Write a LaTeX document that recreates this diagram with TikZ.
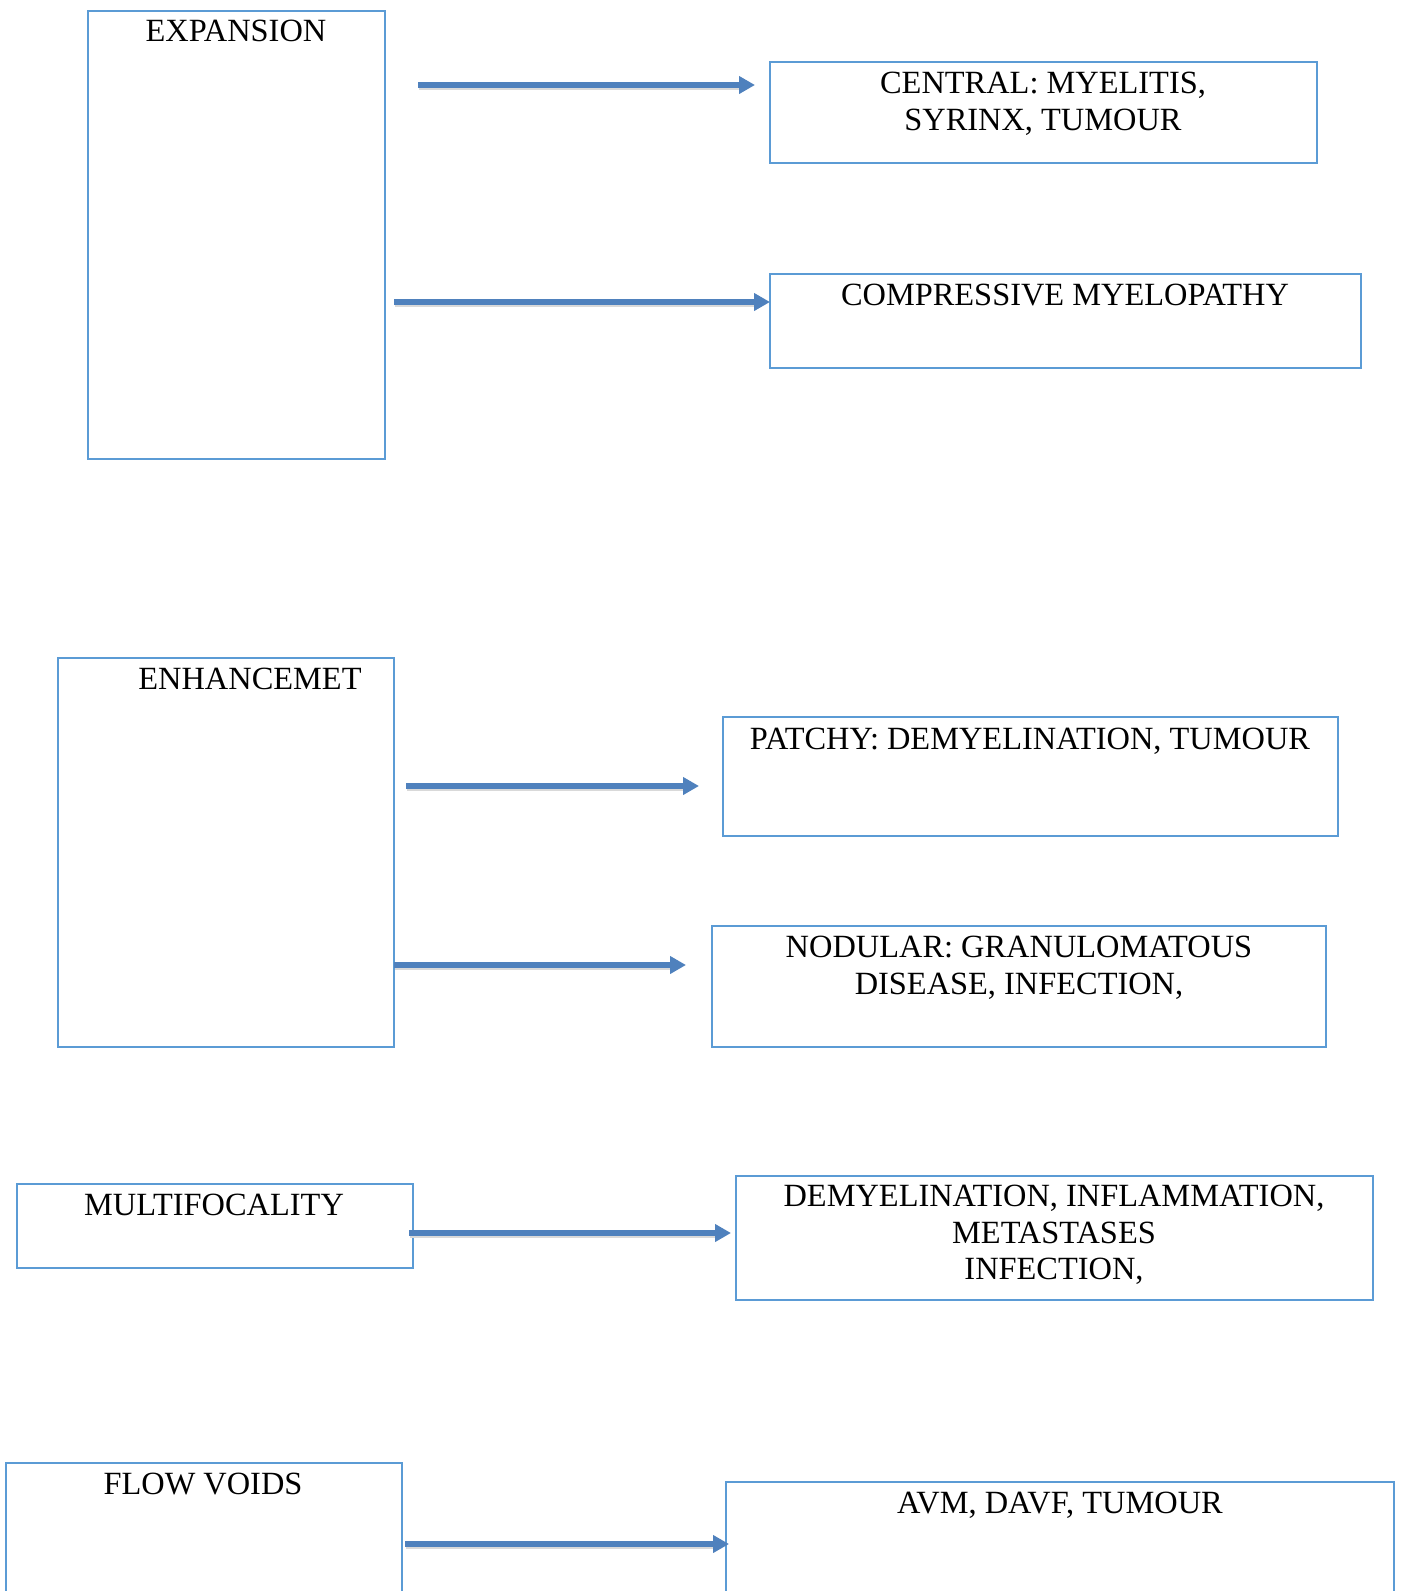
\documentclass[tikz,border=0pt]{standalone}
\usepackage{fontspec}
\setmainfont{Liberation Serif}
\usetikzlibrary{arrows.meta}
\definecolor{boxblue}{HTML}{5B9BD5}
\definecolor{arrblue}{HTML}{4F81BD}
\tikzset{
  box/.style={draw=boxblue, line width=2pt, fill=none, inner sep=0pt},
  lbl/.style={anchor=north, inner sep=0pt, align=center, font=\fontsize{32.4}{36.5}\selectfont},
  arr/.style={draw=arrblue, line width=5.5pt, -{Triangle[length=16pt,width=17pt]}, shorten >=0pt},
  shad/.style={draw=black!15, line width=5pt, line cap=butt},
}
\newcommand{\boxat}[5]{% name, x1, y1, x2, y2
  \node[box, minimum width={#4-#2}, minimum height={#5-#3}] (#1) at ({(#2+#4)/2},{(#3+#5)/2}) {};}
\begin{document}
\begin{tikzpicture}[x=1pt,y=-1pt]
\useasboundingbox (0,0) rectangle (1401,1591);
\clip (0,0) rectangle (1401,1591);
\fill[white] (0,0) rectangle (1401,1591);

% boxes
\boxat{exp}{88}{11}{385}{459}
\boxat{cen}{770}{62}{1317}{163}
\boxat{comp}{770}{274}{1361}{368}
\boxat{enh}{58}{658}{394}{1047}
\boxat{pat}{723}{717}{1338}{836}
\boxat{nod}{712}{926}{1326}{1047}
\boxat{mul}{17}{1184}{413}{1268}
\boxat{dem}{736}{1176}{1373}{1300}
\boxat{flow}{6}{1463}{402}{1640}
\boxat{avm}{726}{1482}{1394}{1640}

% texts
\node[lbl] (expT) at (236,20) {EXPANSION};
\node[lbl] (cenT) at (1043,72) {CENTRAL: MYELITIS,\\SYRINX, TUMOUR};
\node[lbl] (compT) at (1065,284) {COMPRESSIVE MYELOPATHY};
\node[lbl] (enhT) at (250,668) {ENHANCEMET};
\node[lbl] (patT) at (1030,728) {PATCHY: DEMYELINATION, TUMOUR};
\node[lbl] (nodT) at (1019,936) {NODULAR: GRANULOMATOUS\\DISEASE, INFECTION,};
\node[lbl] (mulT) at (214,1194) {MULTIFOCALITY};
\node[lbl] (demT) at (1054,1185) {DEMYELINATION, INFLAMMATION,\\METASTASES\\INFECTION,};
\node[lbl] (flowT) at (203,1473) {FLOW VOIDS};
\node[lbl] (avmT) at (1060,1492) {AVM, DAVF, TUMOUR};

% arrow end points
\coordinate (a1s) at (418,85);   \coordinate (a1e) at (755,85);
\coordinate (a2s) at (394,302);  \coordinate (a2e) at (770,302);
\coordinate (a3s) at (406,786);  \coordinate (a3e) at (699,786);
\coordinate (a4s) at (394,965);  \coordinate (a4e) at (686,965);
\coordinate (a5s) at (409,1233); \coordinate (a5e) at (731,1233);
\coordinate (a6s) at (405,1544); \coordinate (a6e) at (729,1544);

% shadows
\foreach \s/\e in {a1s/a1e,a2s/a2e,a3s/a3e,a4s/a4e,a5s/a5e,a6s/a6e}{
  \draw[shad] ([shift={(1,2.5)}]\s) -- ([shift={(-14,2.5)}]\e);
}
% arrows
\draw[arr] (a1s) -- (a1e);
\draw[arr] (a2s) -- (a2e);
\draw[arr] (a3s) -- (a3e);
\draw[arr] (a4s) -- (a4e);
\draw[arr] (a5s) -- (a5e);
\draw[arr] (a6s) -- (a6e);
\end{tikzpicture}
\end{document}
